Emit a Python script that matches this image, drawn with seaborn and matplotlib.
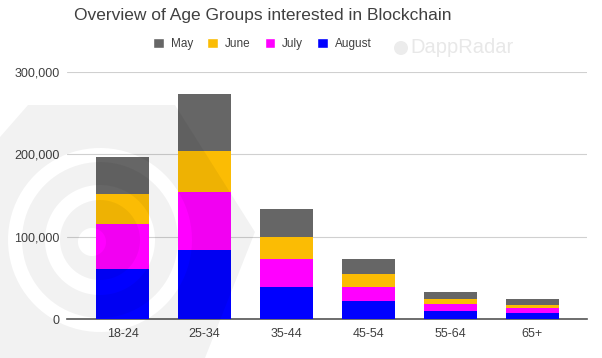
import numpy as np
import pandas as pd
import seaborn as sns
import matplotlib
matplotlib.use("Agg")
import matplotlib.pyplot as plt
from matplotlib.patches import Patch, PathPatch, Circle
from matplotlib.path import Path
from matplotlib.transforms import IdentityTransform

ages = ["18-24", "25-34", "35-44", "45-54", "55-64", "65+"]
august = [60500, 84000, 39500, 22500, 10000, 7600]
july = [55300, 70300, 33200, 17000, 8500, 6100]
june = [35600, 50100, 27100, 15000, 6500, 3300]
may = [45500, 68600, 34200, 19000, 8500, 8000]

months = ["May", "June", "July", "August"]
colors = {"May": "#666666", "June": "#fbbc04", "July": "#ff00ff", "August": "#0000ff"}

sns.set_theme(style="white")
plt.rcParams["font.family"] = ["Liberation Sans", "DejaVu Sans"]

df = pd.DataFrame({"age": ages, "August": august, "July": july, "June": june, "May": may})
# cumulative heights, drawn tallest first so every layer stays visible
df["c_aug"] = df["August"]
df["c_jul"] = df["c_aug"] + df["July"]
df["c_jun"] = df["c_jul"] + df["June"]
df["c_may"] = df["c_jun"] + df["May"]

W, H = 602, 358
fig = plt.figure(figsize=(W / 100, H / 100), dpi=100)
ax = fig.add_axes([0.111, 0.108, 0.864, 0.692])
ax.patch.set_alpha(0)

for col, m in [("c_may", "May"), ("c_jun", "June"), ("c_jul", "July"), ("c_aug", "August")]:
    sns.barplot(data=df, x="age", y=col, color=colors[m], width=0.64,
                saturation=1, linewidth=0, ax=ax, zorder=3)

ax.set_ylim(0, 300000)
ax.set_xlim(-0.68, 5.665)
ax.set_yticks([0, 100000, 200000, 300000])
ax.set_yticklabels([f"{v:,}" for v in [0, 100000, 200000, 300000]])
ax.yaxis.grid(True, color="#d0d0d0", linewidth=0.8, zorder=0)
ax.set_axisbelow(True)
ax.set_xlabel("")
ax.set_ylabel("")
for s in ["top", "right", "left"]:
    ax.spines[s].set_visible(False)
ax.spines["bottom"].set_color("#555555")
ax.spines["bottom"].set_linewidth(1.2)
ax.tick_params(axis="both", length=0, labelsize=9, colors="#404040", pad=6)
ax.tick_params(axis="y", pad=5)

fig.text(0.436, 0.958, "Overview of Age Groups interested in Blockchain",
         ha="center", va="center", fontsize=12.5, color="#404040")

handles = [Patch(facecolor=colors[m], label=m) for m in months]
fig.legend(handles=handles, loc="center", bbox_to_anchor=(0.436, 0.877), ncol=4,
           frameon=False, fontsize=8.5, handlelength=0.9, handleheight=0.9,
           handletextpad=0.6, columnspacing=1.2, labelcolor="#404040")

# DappRadar watermark, top right
fig.text(0.682, 0.866, "DappRadar", ha="left", va="center", fontsize=14.5,
         color="#e8e8e8")
fig.patches.append(Circle((401, H - 48), 7, transform=IdentityTransform(),
                          facecolor="#ececec", edgecolor="none", figure=fig))


# faint logo watermark overlaid on the lower left (pixel coords, y from top)
def ring(cx, cy, r, reverse=False, n=90):
    t = np.linspace(0, 2 * np.pi, n)
    if reverse:
        t = t[::-1]
    return np.column_stack([cx + r * np.cos(t), H - (cy + r * np.sin(t))])


outer = np.array([(0, 137), (28, 105), (175, 105), (255, 232), (205, 358), (0, 358)], float)
outer[:, 1] = H - outer[:, 1]
parts = [outer, ring(100, 240, 92, True), ring(100, 240, 78),
         ring(100, 240, 55, True), ring(100, 240, 40), ring(92, 242, 14, True)]
verts = np.concatenate(parts)
codes = []
for p in parts:
    c = [Path.LINETO] * len(p)
    c[0] = Path.MOVETO
    codes += c
logo = PathPatch(Path(verts, codes), transform=IdentityTransform(), facecolor="black",
                 alpha=0.05, edgecolor="none", zorder=10, figure=fig)
fig.patches.append(logo)

fig.savefig("out.png", dpi=100)
